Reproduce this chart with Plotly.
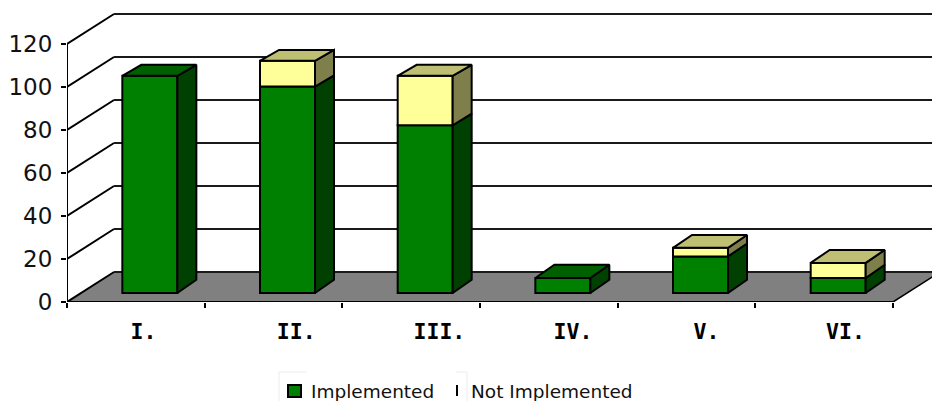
import plotly.graph_objects as go

categories = ["I.", "II.", "III.", "IV.", "V.", "VI."]
implemented = [101, 96, 78, 7, 17, 7]
not_implemented = [0, 12, 23, 0, 4, 7]
y_ticks = [0, 20, 40, 60, 80, 100, 120]
label_positions = [0.555, 1.665, 2.705, 3.675, 4.645, 5.655]

W, H = 932, 401
LEFT, BOTTOM = 67, 99
PX_X = 137.67          # pixels per category slot
PX_Y = 2.15            # pixels per value unit

# Oblique projection depths, in axis units
WALL_DX, WALL_DY = 47 / PX_X, 30 / PX_Y
BAR_DX = 19 / PX_X
BAR_WIDTH = 55 / PX_X
BAR_OFFSET = 14 / PX_X
BAR_BASE = 9 / PX_Y

X_MAX = (W - LEFT) / PX_X
Y_MAX = (H - BOTTOM) / PX_Y

GREEN = ("#008000", "#006000", "#004000")
YELLOW = ("#FFFF99", "#BFBF73", "#7F7F4C")
EDGE = "#000000"
LW = 2


def depth(v):
    # Slight perspective: the receding edge foreshortens with height
    return (13.3 - 0.022 * v) / PX_Y


def px(x):
    return (x - LEFT) / (W - LEFT)


def py(y):
    return (H - BOTTOM - y) / (H - BOTTOM)


shapes = []
# Floor of the 3D box
shapes.append(dict(
    type="path", layer="below", xref="x", yref="y",
    path=f"M 0 0 L {WALL_DX} {WALL_DY} L {6 + WALL_DX} {WALL_DY} L 6 0 Z",
    fillcolor="#808080", line=dict(color=EDGE, width=0),
))
# Gridlines run along the side wall and across the back wall
for v in y_ticks:
    shapes.append(dict(type="line", layer="below", xref="x", yref="y",
                       x0=0, y0=v, x1=WALL_DX, y1=v + WALL_DY,
                       line=dict(color=EDGE, width=LW)))
    shapes.append(dict(type="line", layer="below", xref="x", yref="y",
                       x0=WALL_DX, y0=v + WALL_DY, x1=X_MAX, y1=v + WALL_DY,
                       line=dict(color="#1a1a1a", width=LW)))
shapes.append(dict(type="line", layer="below", xref="x", yref="y",
                   x0=6, y0=0, x1=6 + WALL_DX, y1=WALL_DY,
                   line=dict(color=EDGE, width=1.5)))

# Legend swatches and its faint frame remnants
shapes.append(dict(type="rect", xref="paper", yref="paper",
                   x0=px(288), x1=px(301), y0=py(397), y1=py(385),
                   fillcolor=GREEN[0], line=dict(color=EDGE, width=2)))
shapes.append(dict(type="line", xref="paper", yref="paper",
                   x0=px(457), x1=px(457), y0=py(396), y1=py(385),
                   line=dict(color=EDGE, width=2)))
for x0, y0, x1, y1 in [(279, 372, 306, 372), (279, 372, 279, 401),
                       (456, 372, 467, 372), (467, 372, 467, 401)]:
    shapes.append(dict(type="line", xref="paper", yref="paper",
                       x0=px(x0), x1=px(x1), y0=py(y0), y1=py(y1),
                       line=dict(color="#ececec", width=1)))

fig = go.Figure()

centers = [i + 0.5 + BAR_OFFSET for i in range(len(categories))]
fig.add_bar(x=centers, y=implemented, base=[BAR_BASE] * 6, width=BAR_WIDTH,
            name="Implemented", marker=dict(color=GREEN[0], line=dict(color=EDGE, width=LW)))
visible = [i for i, n in enumerate(not_implemented) if n > 0]
fig.add_bar(x=[centers[i] for i in visible],
            y=[not_implemented[i] for i in visible],
            base=[BAR_BASE + implemented[i] for i in visible], width=BAR_WIDTH,
            name="Not Implemented", marker=dict(color=YELLOW[0], line=dict(color=EDGE, width=LW)))


def face(xs, ys, color):
    fig.add_scatter(x=xs, y=ys, mode="lines", fill="toself", fillcolor=color,
                    line=dict(color=EDGE, width=LW), hoverinfo="skip",
                    cliponaxis=False, showlegend=False)


# Side and top faces of each stacked column
for c, low, high in zip(centers, implemented, not_implemented):
    r = c + BAR_WIDTH / 2
    l = c - BAR_WIDTH / 2
    y0 = BAR_BASE
    y1 = y0 + low
    y2 = y1 + high
    d0, d1, d2 = depth(0), depth(low), depth(low + high)
    face([r, r + BAR_DX, r + BAR_DX, r, r], [y0, y0 + d0, y1 + d1, y1, y0], GREEN[2])
    if high > 0:
        face([r, r + BAR_DX, r + BAR_DX, r, r], [y1, y1 + d1, y2 + d2, y2, y1], YELLOW[2])
        top = YELLOW[1]
    else:
        top = GREEN[1]
    face([l, l + BAR_DX, r + BAR_DX, r, l], [y2, y2 + d2, y2 + d2, y2, y2], top)

# Front edges of the box, drawn over the plot boundary
fig.add_scatter(x=[0, 0], y=[0, 120], mode="lines", line=dict(color=EDGE, width=LW),
                cliponaxis=False, showlegend=False, hoverinfo="skip")
fig.add_scatter(x=[0, 6], y=[0, 0], mode="lines", line=dict(color=EDGE, width=LW),
                cliponaxis=False, showlegend=False, hoverinfo="skip")

annotations = [
    dict(text="Implemented", xref="paper", yref="paper", x=px(309), y=py(391),
         xanchor="left", yanchor="middle", showarrow=False,
         font=dict(family="DejaVu Sans", size=18.5, color="#111111")),
    dict(text="Not Implemented", xref="paper", yref="paper", x=px(469), y=py(391),
         xanchor="left", yanchor="middle", showarrow=False,
         font=dict(family="DejaVu Sans", size=18.5, color="#111111")),
]

fig.update_layout(
    width=W, height=H, margin=dict(l=LEFT, r=0, t=0, b=BOTTOM, pad=0),
    paper_bgcolor="white", plot_bgcolor="white", showlegend=False,
    barmode="overlay", shapes=shapes, annotations=annotations,
    xaxis=dict(
        range=[0, X_MAX], tickmode="array", tickvals=label_positions, ticktext=categories,
        showgrid=False, zeroline=False, showline=False, ticks="", ticklabelstandoff=14,
        tickfont=dict(family="DejaVu Sans Mono", size=21.5, color="#000000", weight="bold"),
        minor=dict(ticks="outside", ticklen=5, tickwidth=2, tickcolor=EDGE,
                   tick0=0, dtick=1, showgrid=False),
    ),
    yaxis=dict(
        range=[0, Y_MAX], tickmode="array", tickvals=y_ticks,
        showgrid=False, zeroline=False, showline=False,
        ticks="outside", ticklen=5, tickwidth=2, tickcolor=EDGE, ticklabelstandoff=4,
        tickfont=dict(family="DejaVu Sans", size=23, color="#111111"),
    ),
)

fig.write_html("out.html")
